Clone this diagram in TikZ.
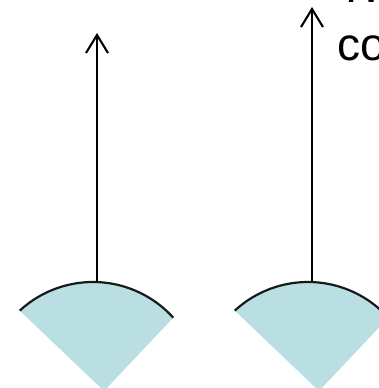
\documentclass[tikz,border=0pt]{standalone}
\usepackage{fontspec}
\setmainfont{Liberation Sans}
\usetikzlibrary{arrows.meta,calc}
\definecolor{beam}{RGB}{185,223,227}
\definecolor{ink}{RGB}{25,25,25}
\tikzset{
  beamfill/.style={fill=beam, draw=none},
  beamarc/.style={draw=ink, line width=2.2pt},
  uparrow/.style={draw=black, line width=2.1pt, -{Straight Barb[length=18pt,width=22pt]}},
  label/.style={inner sep=0pt, anchor=base west, font=\fontsize{46}{58}\selectfont}
}
\begin{document}
\begin{tikzpicture}[x=1pt,y=1pt]
\useasboundingbox (0,0) rectangle (379,388);
\clip (0,0) rectangle (379,388);
% sector 1
\coordinate (c1) at (93,-2);
\coordinate (p1) at (104,-3);
\fill[beamfill] (p1) -- ($(c1)+(132.7:108)$) arc[start angle=132.7, end angle=42, radius=108] -- cycle;
\draw[beamarc] ($(c1)+(132.7:108)$) arc[start angle=132.7, end angle=42, radius=108];
% sector 2
\coordinate (c2) at (308,-2);
\coordinate (p2) at (319,-3);
\fill[beamfill] (p2) -- ($(c2)+(132.7:108)$) arc[start angle=132.7, end angle=42, radius=108] -- cycle;
\draw[beamarc] ($(c2)+(132.7:108)$) arc[start angle=132.7, end angle=42, radius=108];
% arrows
\coordinate (a1s) at (97,106);
\coordinate (a1e) at (97,355);
\coordinate (a2s) at (312,106);
\coordinate (a2e) at (312,381);
\draw[uparrow] (a1s) -- (a1e);
\draw[uparrow] (a2s) -- (a2e);
% text
\node[label] (t1) at (337,385) {Two};
\node[label] (t2) at (337,327) {co};
\end{tikzpicture}
\end{document}
